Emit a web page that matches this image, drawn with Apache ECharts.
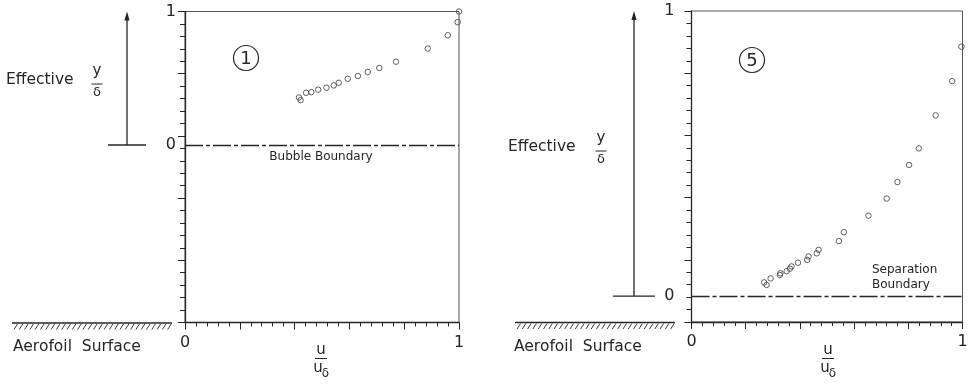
<!DOCTYPE html>
<html>
<head>
<meta charset="utf-8">
<script src="https://cdn.jsdelivr.net/npm/echarts@6/dist/echarts.min.js"></script>
<style>
  html, body { margin: 0; padding: 0; background: #fff; }
  #chart { width: 973px; height: 386px; }
</style>
</head>
<body>
<div id="chart"></div>
<script>
// Station 1: velocity ratio u/uδ against effective y/δ above the bubble boundary
const station1U = [0.416, 0.422, 0.442, 0.461, 0.486, 0.516, 0.543, 0.561, 0.594, 0.631, 0.667, 0.709, 0.770, 0.886, 0.959, 0.995, 1.000];
const station1Y = [0.356, 0.336, 0.391, 0.396, 0.414, 0.429, 0.446, 0.466, 0.496, 0.517, 0.547, 0.577, 0.624, 0.722, 0.822, 0.920, 1.000];

// Station 5: velocity ratio u/uδ against effective y/δ above the separation boundary
const station5U = [0.268, 0.277, 0.292, 0.326, 0.328, 0.351, 0.363, 0.369, 0.393, 0.427, 0.432, 0.462, 0.469, 0.544, 0.562, 0.653, 0.720, 0.760, 0.803, 0.839, 0.901, 0.962, 0.996];
const station5Y = [0.048, 0.039, 0.062, 0.074, 0.080, 0.087, 0.096, 0.104, 0.117, 0.127, 0.139, 0.150, 0.162, 0.193, 0.224, 0.282, 0.342, 0.400, 0.460, 0.518, 0.634, 0.754, 0.875];

// Lower end of each effective y/δ scale (the aerofoil surface)
const station1YMin = -1.33;
const station5YMin = -0.091;

const stationNumbers = ['1', '5'];
const boundaryNames = ['Bubble Boundary', 'Separation\nBoundary'];
const endTicks = [0, 1];

const FONT = 'DejaVu Sans';
const INK = '#262626';
const DOT = '#3c3c3c';

const isEnd = v => endTicks.some(t => Math.abs(v - t) < 1e-6);

function frameXAxis(gridIndex) {
  return {
    gridIndex, type: 'value', min: 0, max: 1, interval: 0.2,
    axisLine: { show: true, lineStyle: { color: INK, width: 1.3 } },
    axisTick: { show: true, length: 7, lineStyle: { color: INK, width: 1 } },
    minorTick: { show: true, splitNumber: 5, length: 4, lineStyle: { color: INK, width: 1 } },
    splitLine: { show: false }, minorSplitLine: { show: false },
    axisLabel: {
      show: true, margin: 12, color: INK, fontFamily: FONT, fontSize: 16,
      customValues: endTicks,
      formatter: v => (isEnd(v) ? String(Math.round(v)) : '')
    }
  };
}

function frameYAxis(gridIndex) {
  return {
    gridIndex, type: 'value', min: 0, max: 25, interval: 5, position: 'left',
    axisLine: { show: true, onZero: false, lineStyle: { color: INK, width: 1.3 } },
    axisTick: { show: true, length: 7, lineStyle: { color: INK, width: 1 } },
    minorTick: { show: true, splitNumber: 5, length: 5, lineStyle: { color: INK, width: 1 } },
    splitLine: { show: false }, minorSplitLine: { show: false },
    axisLabel: { show: false }
  };
}

function dataYAxis(gridIndex, min, margin) {
  return {
    gridIndex, type: 'value', min, max: 1, position: 'left',
    axisLine: { show: false }, axisTick: { show: false },
    splitLine: { show: false },
    axisLabel: {
      show: true, margin, color: INK, fontFamily: FONT, fontSize: 16,
      customValues: endTicks,
      formatter: v => (isEnd(v) ? String(Math.round(v)) : '')
    }
  };
}

function profile(xAxisIndex, yAxisIndex, us, ys) {
  return {
    type: 'scatter', xAxisIndex, yAxisIndex,
    data: us.map((u, i) => [u, ys[i]]),
    symbol: 'circle', symbolSize: 5.5,
    itemStyle: { color: 'rgba(0,0,0,0)', borderColor: DOT, borderWidth: 1 },
    emphasis: { disabled: true },
    markLine: {
      silent: true, symbol: 'none', animation: false,
      label: { show: false },
      lineStyle: { color: INK, width: 1.4, type: [18, 3, 4, 3] },
      data: [{ yAxis: 0 }]
    }
  };
}

const chart = echarts.init(document.getElementById('chart'), null, { renderer: 'canvas' });

chart.setOption({
  animation: false,
  backgroundColor: '#fff',
  grid: [
    { left: 185, top: 11.5, width: 274, height: 311, show: true, borderColor: '#555', borderWidth: 1, backgroundColor: 'transparent' },
    { left: 691.5, top: 11, width: 271, height: 311, show: true, borderColor: '#555', borderWidth: 1, backgroundColor: 'transparent' }
  ],
  xAxis: [frameXAxis(0), frameXAxis(1)],
  yAxis: [
    frameYAxis(0), dataYAxis(0, station1YMin, 9),
    frameYAxis(1), dataYAxis(1, station5YMin, 17)
  ],
  series: [
    profile(0, 1, station1U, station1Y),
    profile(1, 3, station5U, station5Y)
  ]
});

// Annotations: the effective y/δ arrow, aerofoil surface hatching, station numbers, boundary names
function annotations(opt) {
  const { gridIndex, yAxisIndex, yMin, arrowX, barHalf, effX, effY, fracX, fracY,
          surfLeft, surfRight, surfTextX, numX, numY, bLabel } = opt;
  const y0 = chart.convertToPixel({ yAxisIndex }, 0);
  const y1 = chart.convertToPixel({ yAxisIndex }, 1);
  const yBottom = chart.convertToPixel({ yAxisIndex }, yMin);
  const els = [];
  const line = (x1, yA, x2, yB, w) => els.push({
    type: 'line', silent: true,
    shape: { x1, y1: yA, x2, y2: yB },
    style: { stroke: INK, lineWidth: w || 1.2 }
  });
  const text = (x, y, t, size, align, extra) => els.push({
    type: 'text', silent: true, x, y,
    style: Object.assign({ text: t, fill: INK, font: size + 'px "' + FONT + '"', align: align || 'left', verticalAlign: 'middle' }, extra || {})
  });

  // arrow
  line(arrowX, y0, arrowX, y1 + 6, 1.3);
  els.push({ type: 'polygon', silent: true,
    shape: { points: [[arrowX, y1], [arrowX - 2.6, y1 + 9], [arrowX + 2.6, y1 + 9]] },
    style: { fill: INK } });
  line(arrowX - barHalf, y0, arrowX + barHalf, y0, 1.3);

  // Effective y/δ
  text(effX, effY, 'Effective', 15.5);
  text(fracX, fracY - 13, 'y', 15, 'center');
  line(fracX - 5.5, fracY, fracX + 5.5, fracY, 1);
  text(fracX, fracY + 8.5, 'δ', 13, 'center');

  // Aerofoil surface
  line(surfLeft, yBottom + 0.5, surfRight, yBottom + 0.5, 1.4);
  for (let x = surfLeft + 2; x < surfRight - 3; x += 5.3) {
    line(x, yBottom + 7, x + 3.5, yBottom + 1.5, 0.9);
  }
  text(surfTextX, yBottom + 24.5, 'Aerofoil  Surface', 15.5);

  // station number
  els.push({ type: 'circle', silent: true, shape: { cx: numX, cy: numY, r: 12.5 },
    style: { fill: 'none', stroke: INK, lineWidth: 1.2 } });
  text(numX, numY + 1, stationNumbers[gridIndex], 18, 'center');

  // boundary name
  text(bLabel.x, bLabel.y, boundaryNames[gridIndex], 12, bLabel.align, { lineHeight: 15 });

  // u / uδ
  const ux = opt.uX;
  text(ux, 350, 'u', 15, 'center');
  line(ux - 6, 358.5, ux + 6, 358.5, 1);
  text(ux - 3, 368.5, 'u', 15, 'center');
  text(ux + 4.5, 374, 'δ', 12, 'center');
  return els;
}

const graphic = [].concat(
  annotations({ gridIndex: 0, yAxisIndex: 1, yMin: station1YMin, arrowX: 127, barHalf: 19, effX: 6, effY: 80,
    fracX: 97, fracY: 84, surfLeft: 12, surfRight: 172, surfTextX: 13, numX: 246, numY: 58,
    bLabel: { x: 321, y: 157, align: 'center' }, uX: 321 }),
  annotations({ gridIndex: 1, yAxisIndex: 3, yMin: station5YMin, arrowX: 634, barHalf: 21, effX: 508, effY: 147,
    fracX: 601, fracY: 151, surfLeft: 515, surfRight: 675, surfTextX: 514, numX: 752, numY: 60,
    bLabel: { x: 872, y: 277.5, align: 'left' }, uX: 828 })
);

chart.setOption({ graphic });
</script>
</body>
</html>
